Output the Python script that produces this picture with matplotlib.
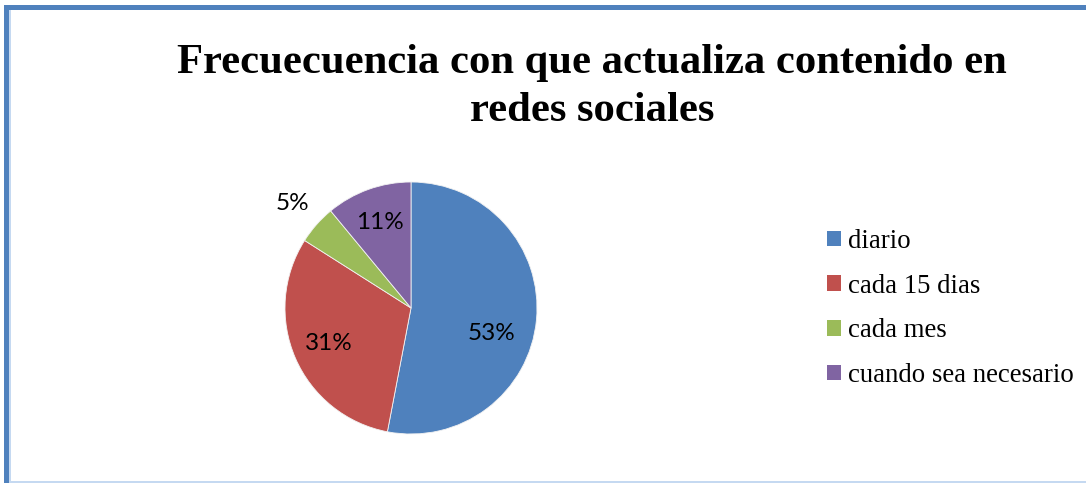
import numpy as np
import matplotlib
matplotlib.use("Agg")
import matplotlib.pyplot as plt
from matplotlib.patches import Rectangle, Patch

# Survey answers: how often social-media content is updated (percent)
categories = ["diario", "cada 15 dias", "cada mes", "cuando sea necesario"]
shares = [53, 31, 5, 11]
colors = ["#4F81BD", "#C0504D", "#9BBB59", "#8064A2"]
title = "Frecuecuencia con que actualiza contenido en\nredes sociales"

W, H = 1086, 483
fig = plt.figure(figsize=(W / 100, H / 100), dpi=100)
fig.patch.set_facecolor("white")

# Chart frame: thick blue top and left edges, faint bottom edge
def px_rect(x0, y0_top, w, h, color):
    fig.add_artist(Rectangle((x0 / W, 1 - (y0_top + h) / H), w / W, h / H,
                             transform=fig.transFigure, facecolor=color,
                             edgecolor="none", zorder=0))

px_rect(4, 5, W - 4, 5, "#4F81BD")
px_rect(4, 5, 5, H - 5, "#4F81BD")
px_rect(9, 10, 1.5, H - 10, "#C5D9F1")
px_rect(9, H - 2, W - 9, 1.5, "#C5D9F1")

# Pie
cx, cy, r = 411, 308, 126
ax = fig.add_axes([(cx - r) / W, (H - cy - r) / H, 2 * r / W, 2 * r / H])
wedges, _ = ax.pie(shares, colors=colors, startangle=90, counterclock=False,
                   radius=1.0, labels=None,
                   wedgeprops=dict(edgecolor="#F2F2F2", linewidth=0.6))
ax.set_xlim(-1, 1)
ax.set_ylim(-1, 1)
ax.axis("off")

label_radius = [0.67, 0.71, 1.25, 0.72]
label_shift_deg = [-12, 0, 0, 0]
for w, v, rad, sh in zip(wedges, shares, label_radius, label_shift_deg):
    ang = np.deg2rad((w.theta1 + w.theta2) / 2 + sh)
    ax.text(rad * np.cos(ang), rad * np.sin(ang), f"{v}%",
            ha="center", va="center", fontsize=17.5, family="Lato",
            color="black", clip_on=False)

# Title
fig.text(592 / W, 1 - 44 / H, title, ha="center", va="top",
         fontsize=30.7, fontweight="bold", family="Liberation Serif",
         linespacing=1.36)

# Legend
handles = [Patch(facecolor=c, edgecolor="none") for c in colors]
fig.legend(handles, categories, loc="center left",
           bbox_to_anchor=(827 / W, 1 - 308.5 / H),
           frameon=False, borderpad=0, borderaxespad=0,
           handlelength=0.52, handleheight=0.5, handletextpad=0.25,
           labelspacing=0.74,
           prop=dict(family="Liberation Serif", size=19.3))

fig.savefig("out.png", dpi=100, facecolor="white")
